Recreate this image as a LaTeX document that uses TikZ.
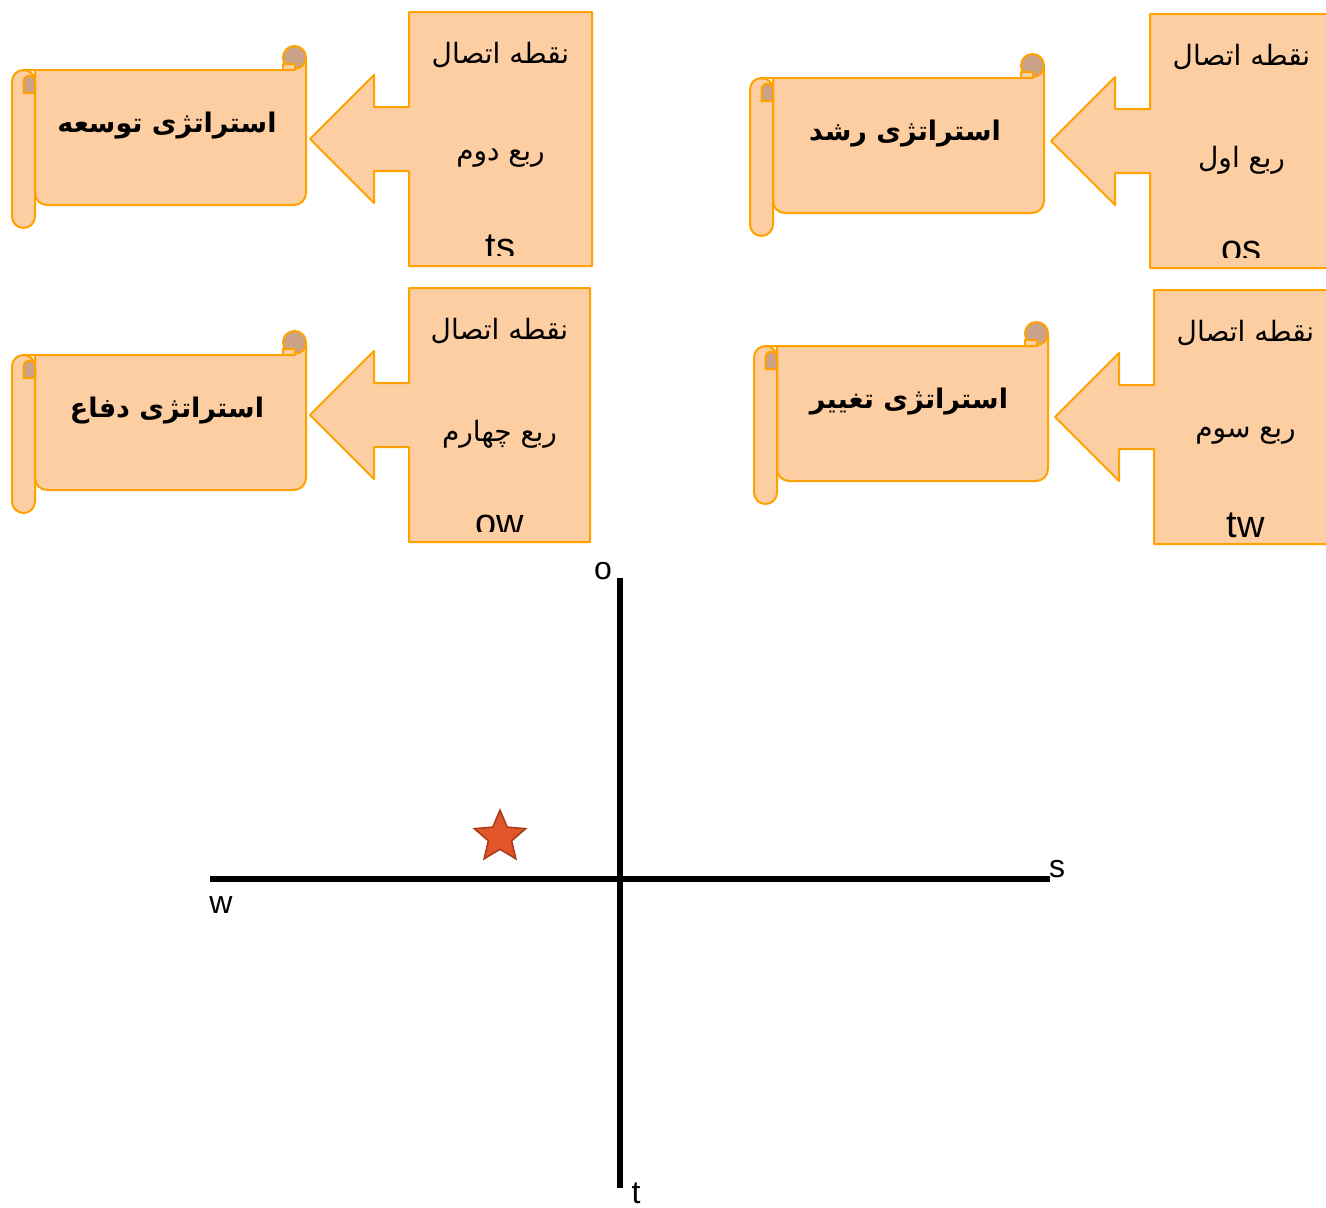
\documentclass[tikz,border=0pt]{standalone}
\usepackage{fontspec}
\usepackage{xcolor}
\usepackage{tikz}
\usetikzlibrary{shapes.geometric}
\TeXXeTstate=1
\setmainfont{Liberation Sans}
\newfontfamily\farsifont[Script=Arabic]{DejaVu Sans}
\definecolor{peach}{HTML}{FDCEA2}
\definecolor{rimorange}{HTML}{FFA200}
\definecolor{rolldark}{HTML}{C9A287}
\definecolor{starred}{HTML}{E0562A}
\definecolor{stardark}{HTML}{A83A18}

\tikzset{
  shapefill/.style={fill=peach, draw=rimorange, line width=2pt, line join=round},
  rollfill/.style={fill=rolldark, draw=rimorange, line width=2pt},
  quartertext/.style={font=\farsifont\fontsize{28}{32}\selectfont, inner sep=0pt},
  strattext/.style={font=\farsifont\bfseries\fontsize{27}{32}\selectfont, inner sep=0pt},
  codetext/.style={font=\fontsize{38}{42}\selectfont, inner sep=0pt},
  axisline/.style={line width=5.5pt},
  axislabel/.style={font=\fontsize{32}{36}\selectfont, inner sep=0pt},
}

% callout box with its arrow: name, top-left, width, quarter, code, clip depth
\newcommand{\quartercallout}[6]{%
  \begin{scope}[shift={#2}]
    \draw[shapefill] (0,0) -- (#3,0) -- (#3,254) -- (0,254) -- (0,159)
      -- (-35,159) -- (-35,191) -- (-99,127) -- (-35,63) -- (-35,95)
      -- (0,95) -- cycle;
    \coordinate (#1tip) at (-99,127);
    \node[quartertext] (#1head) at (#3/2,43) {\beginR نقطه اتصال\endR};
    \node[quartertext] (#1quarter) at (#3/2,146) {#4};
    \begin{scope}
      \clip (0,0) rectangle (#3,#6);
      \node[codetext, anchor=base] (#1code) at (#3/2,247) {#5};
    \end{scope}
  \end{scope}}

% scroll with the strategy: name, top-left, text
\newcommand{\strategyscroll}[3]{%
  \begin{scope}[shift={#2}]
    \draw[shapefill] (11.5,0) -- (282,0) -- (282,-12) -- (294,-12)
      [rounded corners=12pt] -- (294,135) -- (23,135) [sharp corners]
      -- (23,0) -- cycle;
    \draw[rollfill] (282.5,-12.5) circle (11.5);
    \draw[shapefill] (271,-6) rectangle (282.5,0);
    \draw[shapefill, rounded corners=11.5pt] (0,0) rectangle (23,158);
    \draw[rollfill] (11.5,23) -- (11.5,11.5)
      arc[start angle=180, end angle=360, radius=5.75] -- (23,23) -- cycle;
    \node[strattext] (#1) at (155,56) {#3};
  \end{scope}}

\begin{document}
\begin{tikzpicture}[x=1pt, y=-1pt]
  \useasboundingbox (0,0) rectangle (1326,1208);
  \clip (0,0) rectangle (1326,1208);

  % the four quarters
  \quartercallout{second}{(409,12)}{183}{\beginR ربع دوم\endR}{ts}{243}
  \quartercallout{first}{(1150,14)}{183}{\beginR ربع اول\endR}{os}{243}
  \quartercallout{fourth}{(409,288)}{181}{\beginR ربع چهارم\endR}{ow}{243}
  \quartercallout{third}{(1154,290)}{183}{\beginR ربع سوم\endR}{tw}{254}

  \strategyscroll{expand}{(12,70)}{\beginR استراتژی توسعه\endR}
  \strategyscroll{growth}{(750,78)}{\beginR استراتژی رشد\endR}
  \strategyscroll{defend}{(12,355)}{\beginR استراتژی دفاع\endR}
  \strategyscroll{change}{(754,346)}{\beginR استراتژی تغییر\endR}

  % axes
  \coordinate (north) at (620,578);
  \coordinate (south) at (620,1188);
  \coordinate (west) at (210,879);
  \coordinate (east) at (1050,879);
  \draw[axisline] (west) -- (east);
  \draw[axisline] (north) -- (south);
  \node[axislabel] (olabel) at (603,571) {o};
  \node[axislabel] (slabel) at (1057,869) {s};
  \node[axislabel] (wlabel) at (221,905) {w};
  \node[axislabel, anchor=north] (tlabel) at (636,1183) {t};

  \node[star, star points=5, star point ratio=2.2, minimum size=54pt,
        inner sep=0pt, fill=starred, draw=stardark, line width=1.5pt]
        (position) at (500,837) {};
\end{tikzpicture}
\end{document}
